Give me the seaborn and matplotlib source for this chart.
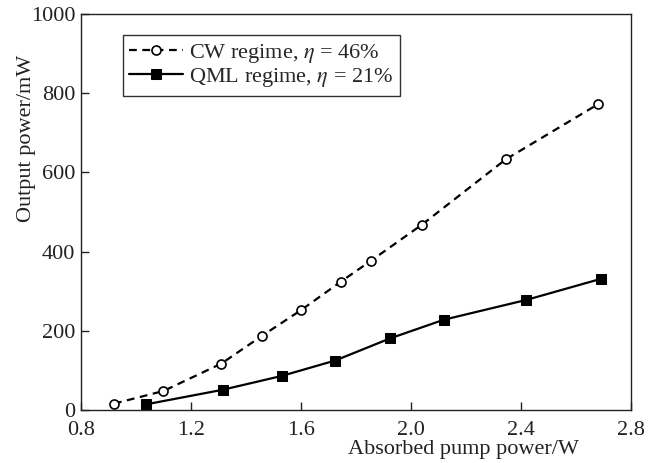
import pandas as pd
import matplotlib
matplotlib.use('Agg')
import matplotlib.pyplot as plt
import seaborn as sns

# data
cw_power = [0.92, 1.10, 1.31, 1.46, 1.60, 1.745, 1.855, 2.04, 2.345, 2.68]
cw_output = [16, 48, 117, 188, 252, 324, 377, 468, 633, 772]
qml_power = [1.035, 1.315, 1.53, 1.725, 1.925, 2.12, 2.42, 2.69]
qml_output = [14, 51, 86, 125, 181, 228, 278, 331]
x_ticks = [0.8, 1.2, 1.6, 2.0, 2.4, 2.8]
y_ticks = [0, 200, 400, 600, 800, 1000]

cw = pd.DataFrame({'power': cw_power, 'output': cw_output})
qml = pd.DataFrame({'power': qml_power, 'output': qml_output})

sns.set_style('ticks')
plt.rcParams['font.family'] = ['Liberation Serif', 'DejaVu Serif']
plt.rcParams['mathtext.fontset'] = 'stix'

fig = plt.figure(figsize=(6.56, 4.63), dpi=100)
ax = fig.add_axes([0.1235, 0.1145, 0.838, 0.855])

sns.lineplot(data=cw, x='power', y='output', ax=ax, color='black', linewidth=1.6,
             linestyle=(0, (3.5, 2.5)), marker='o', markersize=6.5,
             markerfacecolor='white', markeredgecolor='black', markeredgewidth=1.2,
             label=r'CW regime, $\eta$ = 46%')
sns.lineplot(data=qml, x='power', y='output', ax=ax, color='black', linewidth=1.6,
             marker='s', markersize=7, markerfacecolor='black', markeredgecolor='black',
             label=r'QML regime, $\eta$ = 21%')

ax.set_xlim(0.8, 2.8)
ax.set_ylim(0, 1000)
ax.set_xticks(x_ticks)
ax.set_xticklabels([f'{t:.1f}' for t in x_ticks])
ax.set_yticks(y_ticks)
ax.tick_params(direction='in', length=5.5, width=1, labelsize=16, colors='#222222')
ax.tick_params(axis='x', pad=8)
ax.tick_params(axis='y', pad=4)
for s in ax.spines.values():
    s.set_linewidth(1)
    s.set_color('#222222')

ax.set_xlabel('Absorbed pump power/W', fontsize=16, color='#222222')
ax.xaxis.set_label_coords(0.696, -0.076, transform=ax.transAxes)
ax.set_ylabel('Output power/mW', fontsize=16, color='#222222')
ax.yaxis.set_label_coords(-0.082, 0.685, transform=ax.transAxes)

leg = ax.legend(loc='upper left', bbox_to_anchor=(0.076, 0.947), fontsize=16,
                handlelength=2.4, handletextpad=0.27, borderaxespad=0,
                frameon=True, fancybox=False, edgecolor='black', borderpad=0.3,
                labelspacing=0.05)
leg.get_frame().set_linewidth(1)

fig.savefig('out.png', dpi=100)
